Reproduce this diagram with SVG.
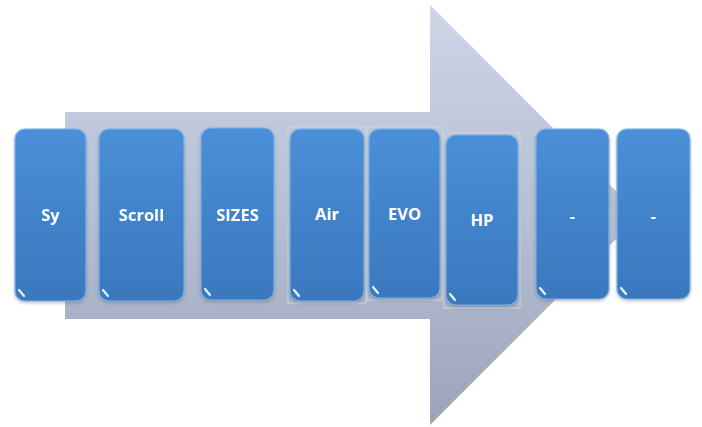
<svg xmlns="http://www.w3.org/2000/svg" width="702" height="427" viewBox="0 0 702 427">
<style>
.box{fill:url(#bg);stroke:#7fb0e4;stroke-width:1.2}
.lbl{font-family:"Open Sans","Liberation Sans",sans-serif;font-weight:bold;font-size:16.5px;fill:#ffffff;text-anchor:middle}
.hl{fill:none;stroke:#e8f2fb;stroke-width:2.2;stroke-linecap:round}
.frame{fill:none;stroke:#d2d6de;stroke-width:1}
</style>
<defs>
<linearGradient id="ag" x1="0" y1="0" x2="0" y2="1">
<stop offset="0" stop-color="#cdd5e7"/>
<stop offset="0.5" stop-color="#b6bfd3"/>
<stop offset="1" stop-color="#9ba4b8"/>
</linearGradient>
<linearGradient id="bg" x1="0" y1="0" x2="0" y2="1">
<stop offset="0" stop-color="#4a90d8"/>
<stop offset="0.5" stop-color="#4283cb"/>
<stop offset="1" stop-color="#3a78be"/>
</linearGradient>
<filter id="sh" x="-20%" y="-10%" width="140%" height="125%">
<feDropShadow dx="0" dy="1.5" stdDeviation="1.5" flood-color="#3a4a60" flood-opacity="0.35"/>
</filter>
</defs>
<rect width="702" height="427" fill="#ffffff"/>
<g id="arrow">
<polygon points="65,112 430,112 430,5 640,215 430,425 430,319 65,319" fill="url(#ag)"/>
</g>
<g id="connectors"></g>
<g id="n1" filter="url(#sh)">
<rect class="box" x="15" y="129" width="71" height="172" rx="10"/>
<path class="hl" d="M19,290 L24,296"/>
<text class="lbl" x="50.5" y="221">Sy</text>
</g>
<g id="n2" filter="url(#sh)">
<rect class="box" x="99" y="129" width="85" height="172" rx="10"/>
<path class="hl" d="M103,290 L108,296"/>
<text class="lbl" x="141.5" y="221">Scroll</text>
</g>
<g id="n3" filter="url(#sh)">
<rect class="box" x="201" y="128" width="73" height="172" rx="10"/>
<path class="hl" d="M205,289 L210,295"/>
<text class="lbl" x="237.5" y="221">SIZES</text>
</g>
<g id="n4">
<rect class="frame" x="288" y="127" width="78" height="176"/>
<rect class="box" x="290" y="129" width="74" height="172" rx="10" filter="url(#sh)"/>
<path class="hl" d="M294,290 L299,296"/>
<text class="lbl" x="327" y="220">Air</text>
</g>
<g id="n5">
<rect class="frame" x="367" y="127" width="75" height="173"/>
<rect class="box" x="369" y="129" width="71" height="169" rx="10" filter="url(#sh)"/>
<path class="hl" d="M373,287 L378,293"/>
<text class="lbl" x="404.5" y="220">EVO</text>
</g>
<g id="n6">
<rect class="frame" x="444" y="133" width="76" height="175"/>
<rect class="box" x="446" y="135" width="72" height="170" rx="10" filter="url(#sh)"/>
<path class="hl" d="M450,294 L455,300"/>
<text class="lbl" x="482" y="226">HP</text>
</g>
<g id="n7" filter="url(#sh)">
<rect class="box" x="536" y="129" width="73" height="170" rx="10"/>
<path class="hl" d="M540,288 L545,294"/>
<text class="lbl" x="572.5" y="222">-</text>
</g>
<g id="n8" filter="url(#sh)">
<rect class="box" x="617" y="129" width="73" height="170" rx="10"/>
<path class="hl" d="M621,288 L626,294"/>
<text class="lbl" x="653.5" y="222">-</text>
</g>
</svg>
